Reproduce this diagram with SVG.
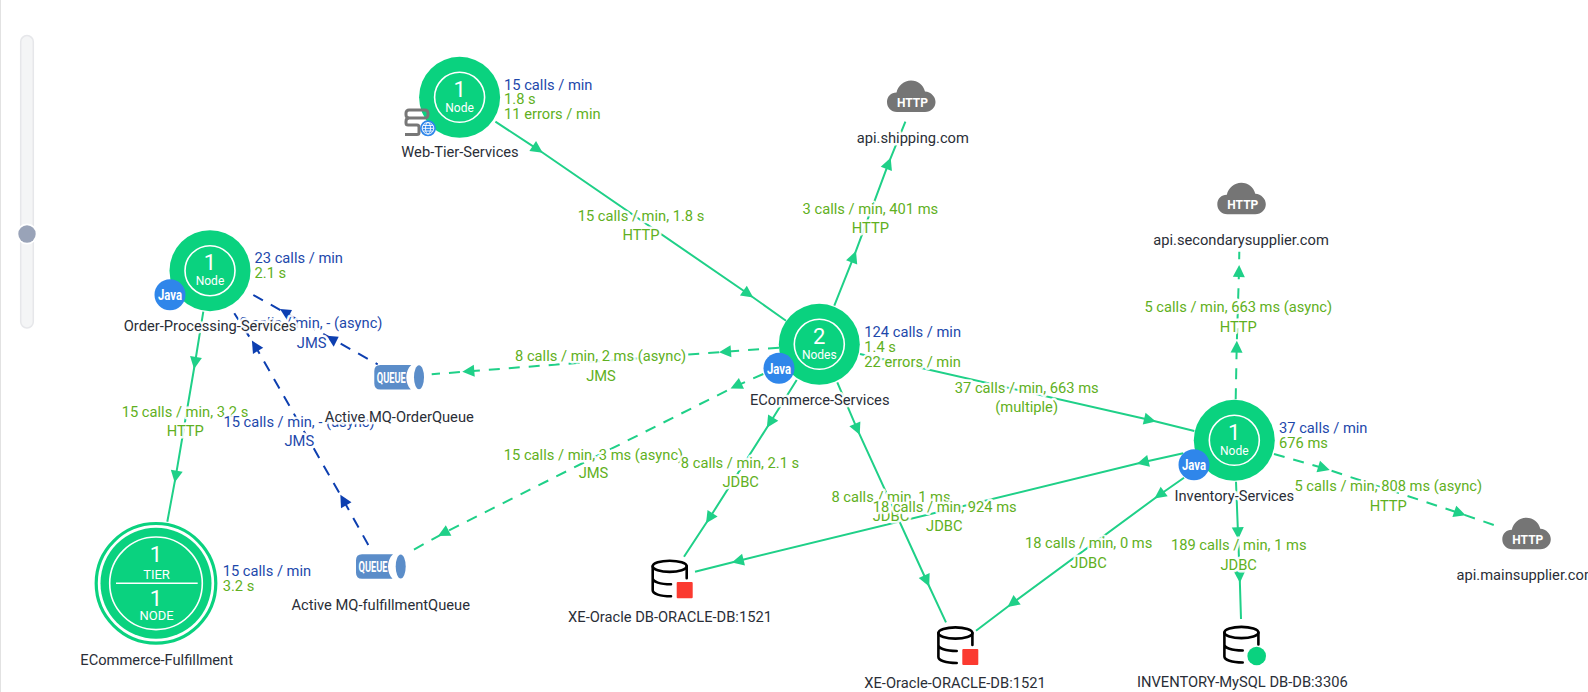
<svg xmlns="http://www.w3.org/2000/svg" width="1588" height="692" viewBox="0 0 1588 692">
<style>
text{font-family:Roboto,"Liberation Sans",sans-serif}
.e{fill:none;stroke-width:2}
.g{stroke:#1fd088}
.b{stroke:#0d3fb0}
.d{stroke-dasharray:11 9}
.gm{marker-mid:url(#ag)}
.bm{marker-mid:url(#ab)}
.t{font-size:14.7px;paint-order:stroke;stroke:#fff;stroke-width:5px;stroke-opacity:.92;stroke-linejoin:round}
.lg{fill:#5fb022;text-anchor:middle}
.lb{fill:#1d48ab;text-anchor:middle}
.mb{fill:#1d48ab}
.mg{fill:#5fb022}
.n{fill:#2a2e37;text-anchor:middle}
.disk{fill:#0ad27f}
.ring{fill:none;stroke:#fff;stroke-width:1.6}
.big{fill:#fff;font-size:22px;text-anchor:middle}
.small{fill:#fff;font-size:12px;text-anchor:middle}
.badge{fill:#2f86ea}
.icont{fill:#fff;font-weight:700;text-anchor:middle}
.db{fill:none;stroke:#000;stroke-width:2.6;stroke-linecap:round}
.cloud{fill:#757575}
.q{fill:#5b8dc9}
</style>
<defs>
<marker id="ag" markerUnits="userSpaceOnUse" viewBox="0 0 14 14" refX="7" refY="7" markerWidth="14" markerHeight="14" orient="auto"><path d="M1 1 L13 7 L1 13Z" fill="#1fd088"/></marker>
<marker id="ab" markerUnits="userSpaceOnUse" viewBox="0 0 14 14" refX="7" refY="7" markerWidth="14" markerHeight="14" orient="auto"><path d="M1 1 L13 7 L1 13Z" fill="#0d3fb0"/></marker>
<path id="blueDown" d="M-6 -5L6 -4L1 6Z" fill="#0d3fb0"/>
<g id="javaBadge"><circle r="15.5" class="badge"/><text y="5.5" class="icont" font-size="15" textLength="24" lengthAdjust="spacingAndGlyphs">Java</text></g>
<g id="cloudIcon"><path class="cloud" d="M10 31.5C4 31.5 0 27 0 21.5C0 16 4 12 9.5 12C11 5 17 0 24 0C31 0 36 4 38 11C44 11.5 48.5 16 48.5 21.5C48.5 27 44 31.5 38 31.5Z"/><text x="25.5" y="26.5" class="icont" font-size="13" textLength="31" lengthAdjust="spacingAndGlyphs">HTTP</text></g>
<g id="dbIcon"><ellipse cx="18.7" cy="7" rx="17" ry="5.6" class="db"/><path class="db" d="M1.7 7V31C1.7 34.5 9 37 20 37M1.7 19C1.7 22.5 9 25 20 25M35.7 7V19"/></g>
<g id="queueIcon"><path class="q" d="M6 0H37C33.5 3 32 8 32 12.2C32 17 33.5 21.5 36.5 24.5H6Q0 24.5 0 18.5V6Q0 0 6 0Z"/><ellipse cx="44.7" cy="12.2" rx="5" ry="12" class="q"/><text x="17" y="17.8" class="icont" font-size="15" textLength="29" lengthAdjust="spacingAndGlyphs">QUEUE</text></g>
</defs>
<rect width="1588" height="692" fill="#fff"/>
<rect x="0" y="0" width="1" height="692" fill="#e2e2e2"/>
<g id="zoom-slider">
<rect x="20.7" y="35.5" width="12.6" height="292.5" rx="6.3" fill="#f4f5f6" stroke="#e6e7ea" stroke-width="1.5"/>
<circle cx="27" cy="234" r="10.5" fill="#fff"/>
<circle cx="27" cy="234" r="8.7" fill="#99a3b8"/>
</g>
<g id="connectors">
<path id="c1" class="e g gm" d="M495.4 121.7L537.7 149.3L748.3 294L786 320.7"/>
<path id="c2" class="e g gm" d="M834.3 305.7L853.8 256.7L888.5 163.3L905.4 121.7"/>
<path id="c3" class="e g d gm" d="M779 347.7L725 351.7L468.3 371.3L431.7 374.3"/>
<path id="c4" class="e g d gm" d="M763.3 374L736 386L443.3 533.3L410 551.7"/>
<path id="c5" class="e g gm" d="M796.7 380L770 422.7L709.3 518.3L684 556.7"/>
<path id="c6" class="e g gm" d="M837.3 382.3L857.3 429.3L926.7 581L946 622.3"/>
<path id="c7" class="e g gm" d="M860 354L1150 420L1194.3 431"/>
<path id="c8" class="e g gm" d="M1183.3 453.3L1142.7 462.3L737.7 561L695 571.7"/>
<path id="c9" class="e g gm" d="M1184 477.7L1159.3 495L1012.3 603.3L976 630.7"/>
<path id="c10" class="e g gm" d="M1236 481.7L1238 533.3L1239.7 576.7L1241 619"/>
<path id="c11" class="e g d gm" d="M1235.7 399.3L1236.7 346.7L1239 271L1239.3 251.7"/>
<path id="c12" class="e g d gm" d="M1274 454L1324 468.3L1460 513.3L1495.7 525.7"/>
<path id="c13" class="e g gm" d="M203.3 311.7L195 363L175.7 476.7L167.3 521.7"/>
<path id="c14" class="e b d" d="M253.3 295L377.7 364.3"/>
<use href="#blueDown" x="286" y="314"/>
<use href="#blueDown" x="332.700" y="340.700"/>
<path id="c15" class="e b d bm" d="M368.3 545L343.3 500L255 345.7L234.3 313.3"/>
</g>
<g id="connector-labels">
<text class="t lg" x="641" y="220.7">15 calls / min, 1.8 s</text><text class="t lg" x="641" y="240">HTTP</text>
<text class="t lg" x="870.4" y="214">3 calls / min, 401 ms</text><text class="t lg" x="870.4" y="232.7">HTTP</text>
<text class="t lg" x="600.6" y="360.5">8 calls / min, 2 ms (async)</text><text class="t lg" x="601" y="381">JMS</text>
<text class="t lg" x="593.5" y="460">15 calls / min, 3 ms (async)</text><text class="t lg" x="593.5" y="478">JMS</text>
<text class="t lg" x="740" y="468.3">8 calls / min, 2.1 s</text><text class="t lg" x="740.7" y="487.3">JDBC</text>
<text class="t lg" x="891" y="501.7">8 calls / min, 1 ms</text><text class="t lg" x="891" y="520.7">JDBC</text>
<text class="t lg" x="944.7" y="511.7">18 calls / min, 924 ms</text><text class="t lg" x="944.3" y="530.7">JDBC</text>
<text class="t lg" x="1026.7" y="392.7">37 calls / min, 663 ms</text><text class="t lg" x="1026.7" y="411.7">(multiple)</text>
<text class="t lg" x="1088.6" y="547.7">18 calls / min, 0 ms</text><text class="t lg" x="1088.6" y="567.5">JDBC</text>
<text class="t lg" x="1238.7" y="550">189 calls / min, 1 ms</text><text class="t lg" x="1238.7" y="570">JDBC</text>
<text class="t lg" x="1238.3" y="312.3">5 calls / min, 663 ms (async)</text><text class="t lg" x="1238.3" y="332.3">HTTP</text>
<text class="t lg" x="1388.3" y="491">5 calls / min, 808 ms (async)</text><text class="t lg" x="1388.3" y="510.7">HTTP</text>
<text class="t lg" x="185" y="417.3">15 calls / min, 3.2 s</text><text class="t lg" x="185.3" y="436">HTTP</text>
<text class="t lb" x="311" y="328">8 calls / min, - (async)</text><text class="t lb" x="311.7" y="347.5">JMS</text>
<text class="t lb" x="299" y="426.7">15 calls / min, - (async)</text><text class="t lb" x="299.3" y="445.7">JMS</text>
</g>
<g id="node-web-tier">
<circle class="disk" cx="459.6" cy="97.3" r="40.5"/><circle class="ring" cx="459.6" cy="97.3" r="25"/>
<text class="big" x="459.6" y="97.3">1</text><text class="small" x="459.6" y="112">Node</text>
<g fill="none" stroke="#777" stroke-width="3"><rect x="406" y="110" width="22" height="8" rx="3"/><path d="M409 118Q406 118 406 121.5V123Q406 125 408 125H417Q419 125 419 127V132.5Q419 134.5 417 134.5H405"/></g>
<circle cx="428" cy="128.3" r="8" fill="#2f86ea"/><g fill="none" stroke="#fff" stroke-width=".9"><circle cx="428" cy="128.3" r="5.8"/><ellipse cx="428" cy="128.3" rx="2.5" ry="5.8"/><path d="M422.2 128.3H433.8M423 125.5H433M423 131H433"/></g>
<text class="t n" x="460" y="157.3">Web-Tier-Services</text>
<text class="t mb" x="504" y="90">15 calls / min</text><text class="t mg" x="504" y="104.3">1.8 s</text><text class="t mg" x="504" y="119.3">11 errors / min</text>
</g>
<g id="node-api-shipping"><use href="#cloudIcon" x="887" y="80.5"/><text class="t n" x="912.8" y="142.7">api.shipping.com</text></g>
<g id="node-api-secondary"><use href="#cloudIcon" x="1217.3" y="182.7"/><text class="t n" x="1241" y="245">api.secondarysupplier.com</text></g>
<g id="node-api-main"><use href="#cloudIcon" x="1502.3" y="517.7"/><text class="t n" x="1526.7" y="580">api.mainsupplier.com</text></g>
<g id="node-ecommerce-services">
<circle class="disk" cx="819.3" cy="344.3" r="40.5"/><circle class="ring" cx="819.3" cy="344.3" r="25"/>
<text class="big" x="819.3" y="344.3">2</text><text class="small" x="819.3" y="359">Nodes</text>
<use href="#javaBadge" x="779" y="368.3"/>
<text class="t n" x="819.7" y="405">ECommerce-Services</text>
<text class="t mb" x="864.3" y="337.3">124 calls / min</text><text class="t mg" x="864.3" y="351.7">1.4 s</text><text class="t mg" x="864.3" y="366.7">22 errors / min</text>
</g>
<g id="node-inventory-services">
<circle class="disk" cx="1234.3" cy="440.3" r="40.5"/><circle class="ring" cx="1234.3" cy="440.3" r="25"/>
<text class="big" x="1234.3" y="440.3">1</text><text class="small" x="1234.3" y="455">Node</text>
<use href="#javaBadge" x="1194" y="464.7"/>
<text class="t n" x="1234.3" y="500.7">Inventory-Services</text>
<text class="t mb" x="1279" y="433.3">37 calls / min</text><text class="t mg" x="1279" y="447.7">676 ms</text>
</g>
<g id="node-order-processing">
<circle class="disk" cx="210" cy="270.7" r="40.5"/><circle class="ring" cx="210" cy="270.7" r="25"/>
<text class="big" x="210" y="270.3">1</text><text class="small" x="210" y="285">Node</text>
<use href="#javaBadge" x="170" y="294.7"/>
<text class="t n" x="210" y="331">Order-Processing-Services</text>
<text class="t mb" x="254.5" y="263">23 calls / min</text><text class="t mg" x="254.5" y="277.7">2.1 s</text>
</g>
<g id="node-fulfillment">
<circle cx="156" cy="583.3" r="59.8" fill="none" stroke="#0ad27f" stroke-width="3.2"/>
<circle class="disk" cx="156" cy="583.3" r="55.5"/><circle class="ring" cx="156" cy="583.3" r="46.3"/>
<path d="M116 583.3H197.7" stroke="#fff" stroke-width="1.4"/>
<text class="big" x="156" y="561.7">1</text><text class="small" x="156.5" y="579" style="font-size:13px">TIER</text>
<text class="big" x="156" y="606">1</text><text class="small" x="156.5" y="620" style="font-size:13px">NODE</text>
<text class="t n" x="156.7" y="665">ECommerce-Fulfillment</text>
<text class="t mb" x="222.7" y="576">15 calls / min</text><text class="t mg" x="222.7" y="591.3">3.2 s</text>
</g>
<g id="node-orderqueue"><use href="#queueIcon" x="374.3" y="365"/><text class="t n" x="399.3" y="421.7">Active MQ-OrderQueue</text></g>
<g id="node-fulfillmentqueue"><use href="#queueIcon" x="356" y="554.3"/><text class="t n" x="380.7" y="610">Active MQ-fulfillmentQueue</text></g>
<g id="node-xe-oracle-db"><use href="#dbIcon" x="651" y="559.3"/><rect x="676.7" y="582" width="16" height="16.3" rx="1" fill="#fb3a30"/><text class="t n" x="670" y="621.7">XE-Oracle DB-ORACLE-DB:1521</text></g>
<g id="node-xe-oracle"><use href="#dbIcon" x="936.7" y="626"/><rect x="962.3" y="649" width="16" height="16" rx="1" fill="#fb3a30"/><text class="t n" x="955" y="688.3">XE-Oracle-ORACLE-DB:1521</text></g>
<g id="node-mysql"><use href="#dbIcon" x="1222.7" y="625.5"/><circle cx="1256.7" cy="656" r="9.3" fill="#0ad27f"/><text class="t n" x="1242.3" y="687.3">INVENTORY-MySQL DB-DB:3306</text></g>
</svg>
